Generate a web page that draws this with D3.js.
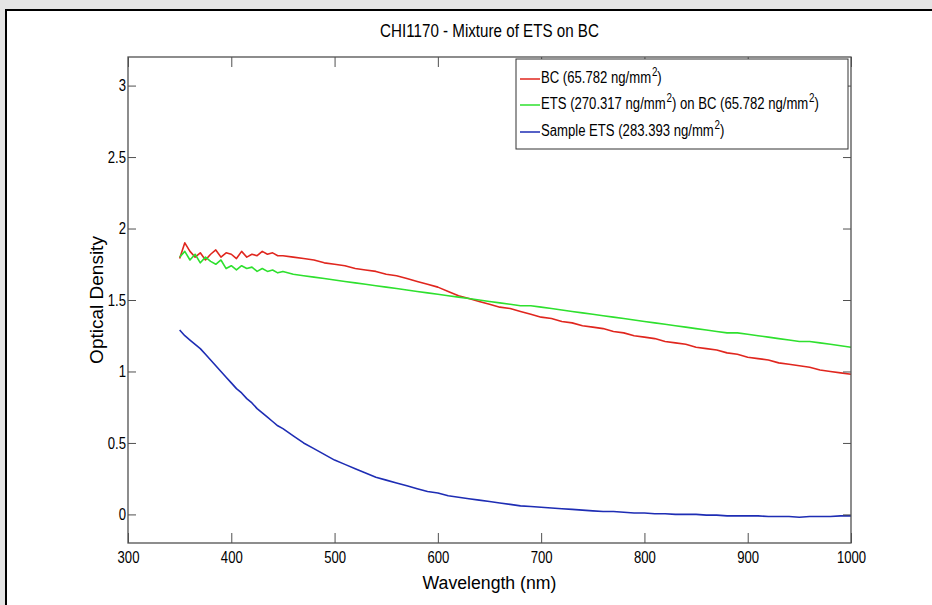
<!DOCTYPE html>
<html>
<head>
<meta charset="utf-8">
<script src="https://cdn.jsdelivr.net/npm/d3@7"></script>
<style>
  body { margin: 0; background: #e4e4e4; }
  svg { display: block; font-family: "Liberation Sans", Arial, sans-serif; }
</style>
</head>
<body>
<svg width="932" height="605"></svg>
<script>
// Wavelength samples (nm)
const wavelength = [350, 355, 360, 365, 370, 375, 380, 385, 390, 395, 400, 405, 410, 415, 420, 425, 430, 435, 440, 445, 450,
  460, 470, 480, 490, 500, 510, 520, 530, 540, 550, 560, 570, 580, 590, 600, 610, 620, 630, 640, 650,
  660, 670, 680, 690, 700, 710, 720, 730, 740, 750, 760, 770, 780, 790, 800, 810, 820, 830, 840, 850,
  860, 870, 880, 890, 900, 910, 920, 930, 940, 950, 960, 970, 980, 990, 1000];

// BC (65.782 ng/mm2)
const bcValues = [1.79, 1.90, 1.84, 1.80, 1.83, 1.78, 1.82, 1.85, 1.80, 1.83, 1.82, 1.79, 1.84, 1.80, 1.82, 1.81, 1.84, 1.82, 1.83, 1.81, 1.81,
  1.80, 1.79, 1.78, 1.76, 1.75, 1.74, 1.72, 1.71, 1.70, 1.68, 1.67, 1.65, 1.63, 1.61, 1.59, 1.56, 1.53, 1.51, 1.49, 1.47,
  1.45, 1.44, 1.42, 1.40, 1.38, 1.37, 1.35, 1.34, 1.32, 1.31, 1.30, 1.28, 1.27, 1.25, 1.24, 1.23, 1.21, 1.20, 1.19, 1.17,
  1.16, 1.15, 1.13, 1.12, 1.10, 1.09, 1.08, 1.06, 1.05, 1.04, 1.03, 1.01, 1.00, 0.99, 0.98];

// ETS on BC
const etsOnBcValues = [1.80, 1.84, 1.78, 1.82, 1.76, 1.80, 1.77, 1.75, 1.78, 1.72, 1.74, 1.71, 1.74, 1.72, 1.73, 1.70, 1.72, 1.70, 1.71, 1.69, 1.70,
  1.68, 1.67, 1.66, 1.65, 1.64, 1.63, 1.62, 1.61, 1.60, 1.59, 1.58, 1.57, 1.56, 1.55, 1.54, 1.53, 1.52, 1.51, 1.50, 1.49,
  1.48, 1.47, 1.46, 1.46, 1.45, 1.44, 1.43, 1.42, 1.41, 1.40, 1.39, 1.38, 1.37, 1.36, 1.35, 1.34, 1.33, 1.32, 1.31, 1.30,
  1.29, 1.28, 1.27, 1.27, 1.26, 1.25, 1.24, 1.23, 1.22, 1.21, 1.21, 1.20, 1.19, 1.18, 1.17];

// Sample ETS
const sampleEtsValues = [1.29, 1.25, 1.22, 1.19, 1.16, 1.12, 1.08, 1.04, 1.00, 0.96, 0.92, 0.88, 0.85, 0.81, 0.78, 0.74, 0.71, 0.68, 0.65, 0.62, 0.60,
  0.55, 0.50, 0.46, 0.42, 0.38, 0.35, 0.32, 0.29, 0.26, 0.24, 0.22, 0.20, 0.18, 0.16, 0.15, 0.13, 0.12, 0.11, 0.10, 0.09,
  0.08, 0.07, 0.06, 0.055, 0.05, 0.045, 0.04, 0.035, 0.03, 0.025, 0.02, 0.02, 0.015, 0.01, 0.01, 0.005, 0.005, 0.0, 0.0, 0.0,
  -0.005, -0.005, -0.01, -0.01, -0.01, -0.01, -0.015, -0.015, -0.015, -0.02, -0.015, -0.015, -0.015, -0.01, -0.01];

const xTicks = [300, 400, 500, 600, 700, 800, 900, 1000];
const yTicks = [0, 0.5, 1, 1.5, 2, 2.5, 3];

const seriesColors = ["#e0261e", "#2ee02e", "#1e2db4"];

const margin = { top: 57, right: 81, bottom: 62, left: 128 };
const width = 932, height = 605;

const svg = d3.select("svg");

// squeeze text horizontally around its own x (the reference font is narrow)
function condense(sel, k) {
  sel.each(function() {
    const x0 = +(this.getAttribute("x") || 0);
    d3.select(this).attr("transform", `translate(${x0},0) scale(${k},1) translate(${-x0},0)`);
  });
}

// Figure panel with border
svg.append("rect")
  .attr("x", 6).attr("y", 10)
  .attr("width", 940).attr("height", 610)
  .attr("fill", "#fff")
  .attr("stroke", "#000")
  .attr("stroke-width", 2);

const xScale = d3.scaleLinear()
  .domain([300, 1000])
  .range([margin.left, width - margin.right]);

const yScale = d3.scaleLinear()
  .domain([-0.2, 3.2])
  .range([height - margin.bottom, margin.top]);

const series = [bcValues, etsOnBcValues, sampleEtsValues];

const line = d3.line()
  .x((d, i) => xScale(wavelength[i]))
  .y(d => yScale(d));

// Lines
series.forEach((vals, k) => {
  svg.append("path")
    .datum(vals)
    .attr("fill", "none")
    .attr("stroke", seriesColors[k])
    .attr("stroke-width", 1.6)
    .attr("stroke-linejoin", "round")
    .attr("d", line);
});

// Axes (ticks inward on all four sides)
const axisColor = "#505050";
function styleAxis(g) {
  g.select(".domain").remove();
  g.selectAll(".tick line").attr("stroke", axisColor);
  g.selectAll(".tick text").attr("fill", "#000").style("font-size", "16px").call(condense, 0.82);
}

svg.append("g")
  .attr("transform", `translate(0, ${height - margin.bottom})`)
  .call(d3.axisBottom(xScale).tickValues(xTicks).tickSizeInner(-10).tickPadding(9).tickFormat(d => d))
  .call(styleAxis);

svg.append("g")
  .attr("transform", `translate(0, ${margin.top})`)
  .call(d3.axisTop(xScale).tickValues(xTicks).tickSizeInner(-10).tickFormat(""))
  .call(styleAxis);

svg.append("g")
  .attr("transform", `translate(${margin.left}, 0)`)
  .call(d3.axisLeft(yScale).tickValues(yTicks).tickSizeInner(-8).tickPadding(2).tickFormat(d => d))
  .call(styleAxis);

svg.append("g")
  .attr("transform", `translate(${width - margin.right}, 0)`)
  .call(d3.axisRight(yScale).tickValues(yTicks).tickSizeInner(-8).tickFormat(""))
  .call(styleAxis);

// Plot box
svg.append("rect")
  .attr("x", margin.left)
  .attr("y", margin.top)
  .attr("width", width - margin.right - margin.left)
  .attr("height", height - margin.bottom - margin.top)
  .attr("fill", "none")
  .attr("stroke", axisColor)
  .attr("stroke-width", 1.3);

// Title
svg.append("text")
  .attr("x", (margin.left + width - margin.right) / 2)
  .attr("y", 37)
  .attr("text-anchor", "middle")
  .style("font-size", "18.5px")
  .text("CHI1170 - Mixture of ETS on BC")
  .call(condense, 0.82);

// Axis labels
svg.append("text")
  .attr("x", (margin.left + width - margin.right) / 2)
  .attr("y", 589)
  .attr("text-anchor", "middle")
  .style("font-size", "19px")
  .text("Wavelength (nm)")
  .call(condense, 0.93);

svg.append("text")
  .attr("transform", "rotate(-90)")
  .attr("x", -300)
  .attr("y", 103)
  .attr("text-anchor", "middle")
  .style("font-size", "19px")
  .text("Optical Density");

// Legend
const legend = svg.append("g");
legend.append("rect")
  .attr("x", 516).attr("y", 59)
  .attr("width", 332).attr("height", 90)
  .attr("fill", "#fff")
  .attr("stroke", "#333")
  .attr("stroke-width", 1);

const rowY = [83, 109, 136];
const legendText = [
  [["BC (65.782 ng/mm", false], ["2", true], [")", false]],
  [["ETS (270.317 ng/mm", false], ["2", true], [") on BC (65.782 ng/mm", false], ["2", true], [")", false]],
  [["Sample ETS (283.393 ng/mm", false], ["2", true], [")", false]]
];

legendText.forEach((parts, k) => {
  legend.append("line")
    .attr("x1", 520).attr("x2", 540)
    .attr("y1", rowY[k] - 4).attr("y2", rowY[k] - 4)
    .attr("stroke", seriesColors[k])
    .attr("stroke-width", 1.5);
  const t = legend.append("text")
    .attr("x", 541).attr("y", rowY[k])
    .style("font-size", "16px");
  let raised = false;
  parts.forEach(([s, sup]) => {
    const dy = sup && !raised ? -7 : (!sup && raised ? 7 : 0);
    raised = sup;
    t.append("tspan")
      .attr("dy", dy)
      .attr("dx", sup ? 1 : 0)
      .style("font-size", sup ? "12px" : "16px")
      .text(s);
  });
  t.call(condense, 0.82);
});
</script>
</body>
</html>
